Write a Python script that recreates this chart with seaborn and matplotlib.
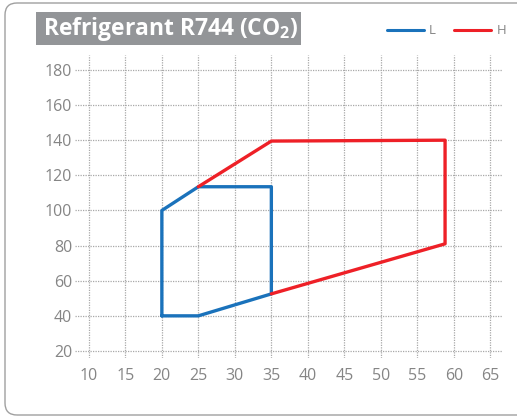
import pandas as pd
import matplotlib
matplotlib.use('Agg')
import matplotlib.pyplot as plt
from matplotlib.patches import FancyBboxPatch, Rectangle
import seaborn as sns

# Рабочие области (температура кипения / конденсации)
l_x = [20, 25, 35, 35, 25, 20, 20]
l_y = [40, 40, 52.5, 113.5, 113.5, 100, 40]
h_x = [25, 35, 58.8, 58.8, 35]
h_y = [113.5, 139.5, 140, 81, 52.5]
x_ticks = [10, 15, 20, 25, 30, 35, 40, 45, 50, 55, 60, 65]
y_ticks = [20, 40, 60, 80, 100, 120, 140, 160, 180]

df = pd.concat([
    pd.DataFrame({'x': l_x, 'y': l_y, 'series': 'L'}),
    pd.DataFrame({'x': h_x, 'y': h_y, 'series': 'H'}),
])

sns.set_style('white')
plt.rcParams['font.family'] = ['Open Sans', 'DejaVu Sans']
plt.rcParams['mathtext.fontset'] = 'custom'

fig = plt.figure(figsize=(5.17, 4.18), dpi=100)
ax = fig.add_axes([75 / 517, 1 - 358 / 418, 427 / 517, 303 / 418])

sns.lineplot(data=df, x='x', y='y', hue='series', sort=False, estimator=None,
             palette={'L': '#1a72bb', 'H': '#ee2027'}, linewidth=2.4, ax=ax)

ax.set_xlim(8.1, 66.6)
ax.set_ylim(16, 188.5)
ax.set_xticks(x_ticks)
ax.set_yticks(y_ticks)
ax.set_xlabel('')
ax.set_ylabel('')
ax.grid(True, linestyle=(0, (1, 1)), color='#a8a8a8', linewidth=0.9)
ax.set_axisbelow(True)
for s in ax.spines.values():
    s.set_visible(False)
ax.tick_params(axis='both', length=0, labelsize=11.5, colors='#858585')
ax.tick_params(axis='x', pad=7)
ax.tick_params(axis='y', pad=2)

leg = ax.legend(loc='center right', bbox_to_anchor=(506 / 517, 1 - 31 / 418),
                bbox_transform=fig.transFigure, ncol=2, frameon=False,
                handlelength=2.8, handletextpad=0.4, columnspacing=1.4,
                fontsize=9.5, borderpad=0, borderaxespad=0)
for t in leg.get_texts():
    t.set_color('#858585')
for line in leg.get_lines():
    line.set_linewidth(2.2)

# Рамка и заголовок
fig.patches.append(FancyBboxPatch((0.05, 0.03), 5.4, 4.12,
                                  boxstyle='round,pad=0,rounding_size=0.12',
                                  transform=fig.dpi_scale_trans,
                                  facecolor='none', edgecolor='#a0a0a0',
                                  linewidth=1.0))
fig.patches.append(Rectangle((36 / 517, 1 - 45 / 418), 265 / 517, 33 / 418,
                             transform=fig.transFigure, facecolor='#939598',
                             edgecolor='none'))
fig.text(43 / 517, 1 - 29 / 418, r'Refrigerant R744 (CO$_\mathregular{2}$)',
         color='white', fontsize=16.5, fontweight='bold', va='center',
         ha='left')

fig.savefig('out.png', dpi=100)
